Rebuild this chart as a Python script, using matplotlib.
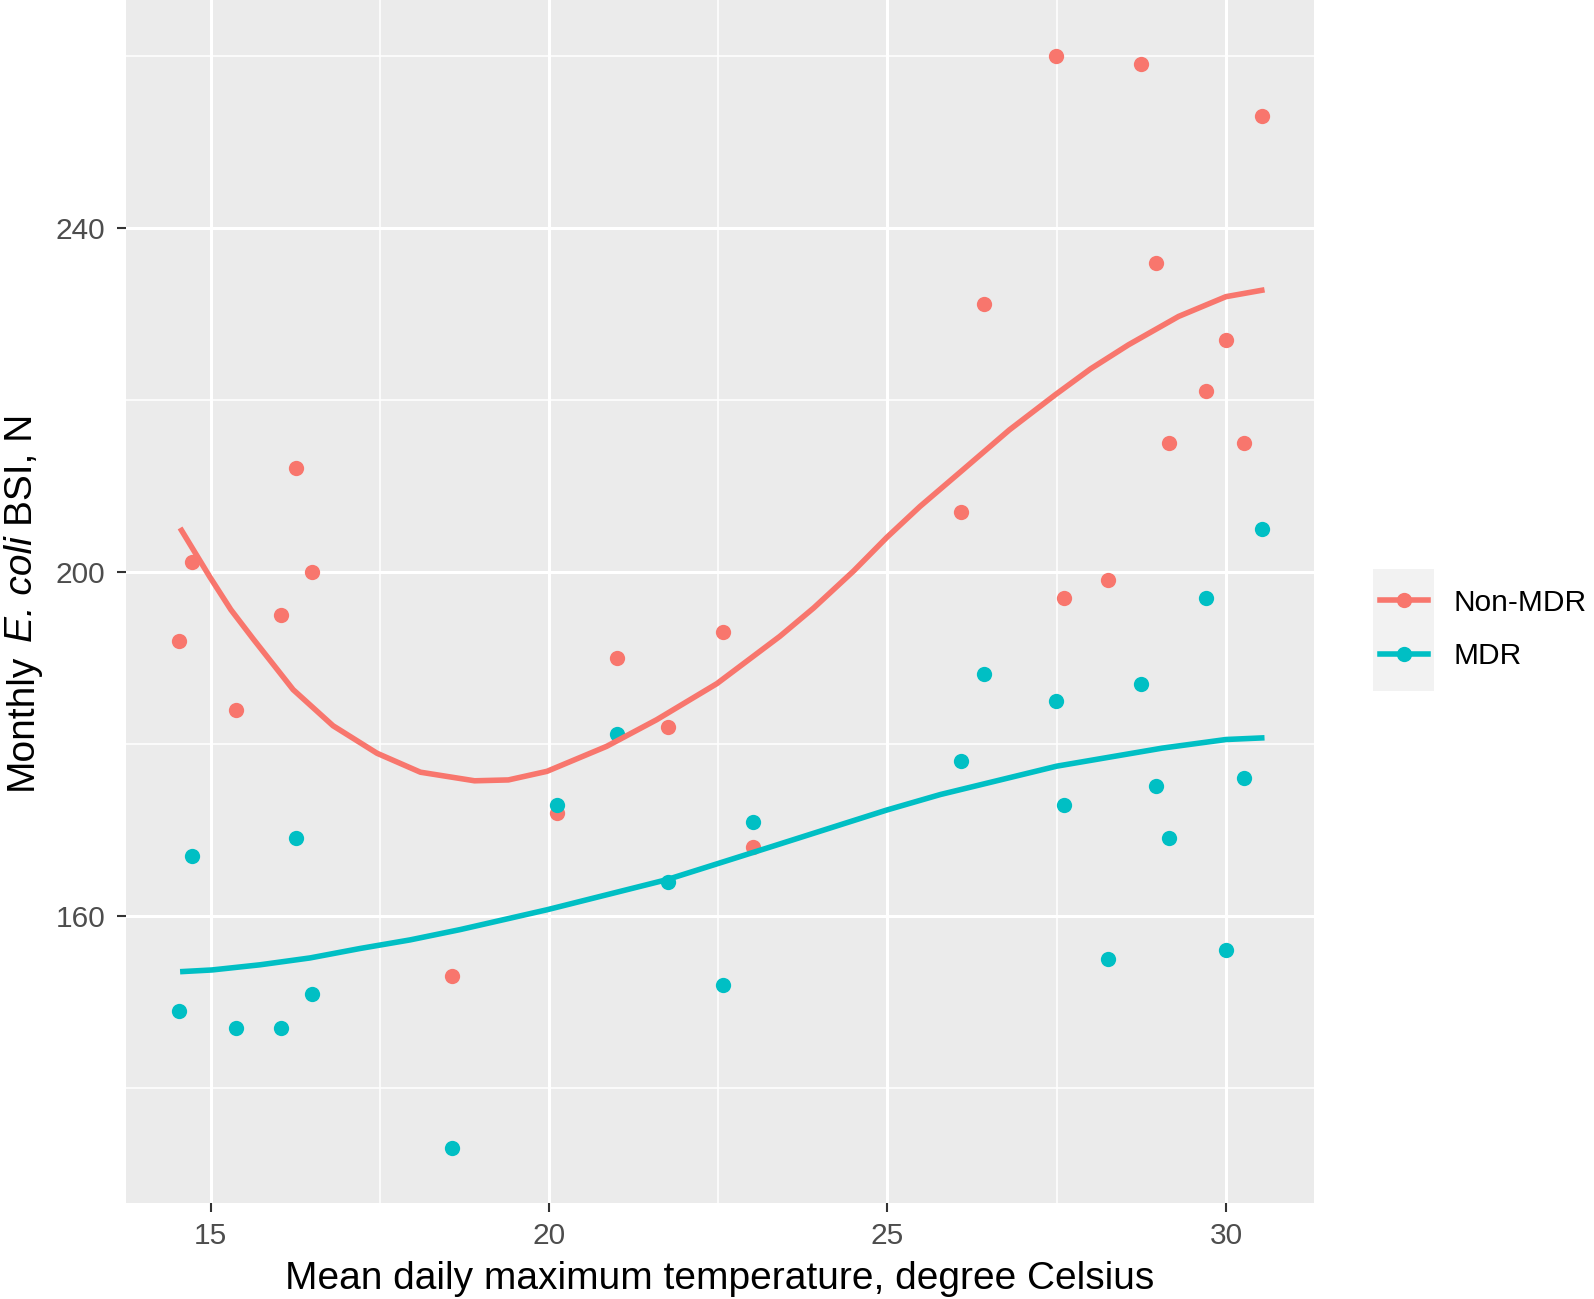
import numpy as np
import matplotlib
matplotlib.use("Agg")
import matplotlib.pyplot as plt
from matplotlib.lines import Line2D
from matplotlib.patches import Rectangle

plt.rcParams["font.family"] = ["Liberation Sans", "DejaVu Sans"]

colors = ["#F8766D", "#00BFC4"]
labels = ["Non-MDR", "MDR"]

# monthly mean daily max temperature (same months for both groups)
temp = [14.53, 14.73, 15.38, 16.04, 16.26, 16.50, 18.56, 20.12, 21.00, 21.76, 22.57, 23.02,
        26.08, 26.43, 27.49, 27.61, 28.26, 28.75, 28.96, 29.16, 29.71, 30.00, 30.26, 30.53]
non_mdr = [192.0, 201.1, 183.9, 195.0, 212.1, 200.0, 153.0, 171.9, 190.0, 182.0, 193.0, 168.0,
           207.0, 231.1, 260.0, 197.0, 199.0, 259.0, 235.9, 215.0, 221.0, 227.0, 215.0, 253.0]
mdr = [148.9, 166.9, 146.9, 146.9, 169.0, 150.9, 133.0, 172.9, 181.1, 163.9, 152.0, 170.9,
       178.0, 188.1, 185.0, 172.9, 155.0, 187.0, 175.1, 169.0, 196.9, 156.0, 176.0, 205.0]

# smoothed (loess) curves
fit_non_mdr_x = [14.55, 14.99, 15.30, 15.63, 15.95, 16.22, 16.81, 17.46, 18.10, 18.90, 19.40,
                 19.97, 20.85, 21.59, 22.48, 22.92, 23.41, 23.91, 24.50, 24.99, 25.48, 26.09,
                 26.80, 27.48, 28.00, 28.56, 29.30, 30.00, 30.57]
fit_non_mdr_y = [205.1, 199.4, 195.6, 192.2, 189.0, 186.3, 182.1, 178.9, 176.7, 175.7, 175.8,
                 176.8, 179.7, 182.8, 187.0, 189.6, 192.5, 195.8, 200.1, 204.0, 207.6, 211.7,
                 216.5, 220.6, 223.6, 226.4, 229.7, 232.0, 232.8]
fit_mdr_x = [14.55, 15.02, 15.73, 16.47, 17.21, 17.95, 18.69, 19.97, 21.74, 23.31, 24.99,
             25.78, 27.50, 29.06, 30.00, 30.57]
fit_mdr_y = [153.5, 153.7, 154.3, 155.1, 156.2, 157.2, 158.4, 160.7, 164.2, 168.1, 172.3,
             174.1, 177.4, 179.5, 180.5, 180.7]

fig = plt.figure(figsize=(15.94, 12.99), dpi=100)
ax = fig.add_axes([0.0790, 0.0739, 0.7453, 0.9261])
ax.set_facecolor("#EBEBEB")

for y, fx, fy, c in [(non_mdr, fit_non_mdr_x, fit_non_mdr_y, colors[0]),
                     (mdr, fit_mdr_x, fit_mdr_y, colors[1])]:
    ax.plot(temp, y, "o", color=c, ms=11, mec="none", zorder=3)
    ax.plot(fx, fy, color=c, lw=4.0, solid_capstyle="butt", solid_joinstyle="round", zorder=4)

ax.set_xlim(13.75, 31.3)
ax.set_ylim(126.6, 266.5)
ax.set_xticks([15, 20, 25, 30])
ax.set_yticks([160, 200, 240])
ax.set_xticks([17.5, 22.5, 27.5], minor=True)
ax.set_yticks([140, 180, 220, 260], minor=True)
ax.grid(which="major", color="white", lw=2.2)
ax.grid(which="minor", color="white", lw=1.1)
ax.set_axisbelow(True)
for s in ax.spines.values():
    s.set_visible(False)
ax.tick_params(which="major", length=6.5, width=1.5, color="#333333",
               labelsize=21.5, labelcolor="#4D4D4D")
ax.tick_params(axis="y", pad=8.5)
ax.tick_params(axis="x", pad=7)
ax.tick_params(which="minor", length=0)

ax.set_xlabel("Mean daily maximum temperature, degree Celsius", fontsize=28, labelpad=8)

# y label with italic species name, built from pieces
pieces = [("Monthly", "normal"), ("E. coli", "italic"), ("BSI, N", "normal")]
texts = [fig.text(0, 0, s, rotation=90, fontsize=28, style=st, ha="right", va="bottom")
         for s, st in pieces]
r = fig.canvas.get_renderer()
lens = [t.get_window_extent(r).height for t in texts]
gap = 0.278 * 28 * 100 / 72
fig_h = fig.get_figheight() * fig.dpi
ax_box = ax.get_position()
yc = (ax_box.y0 + ax_box.y1) / 2 * fig_h
y0 = yc - (sum(lens) + gap * (len(lens) - 1)) / 2
for t, L in zip(texts, lens):
    t.set_position((40 / 1594, y0 / fig_h))
    y0 += L + gap

# legend
fig.patches.append(Rectangle((1373 / 1594, 1 - 691 / 1299), 61 / 1594, 122 / 1299,
                             transform=fig.transFigure, facecolor="#F2F2F2",
                             edgecolor="none", zorder=0))
handles = [Line2D([], [], color=c, lw=4.0, marker="o", ms=11, mec="none") for c in colors]
fig.legend(handles, labels, loc="center left", bbox_to_anchor=(1380 / 1594, 0.5154),
           frameon=False, fontsize=21.5, handlelength=1.6, handletextpad=0.85,
           labelspacing=0.85, borderpad=0, borderaxespad=0)

fig.savefig("out.png", dpi=100)
